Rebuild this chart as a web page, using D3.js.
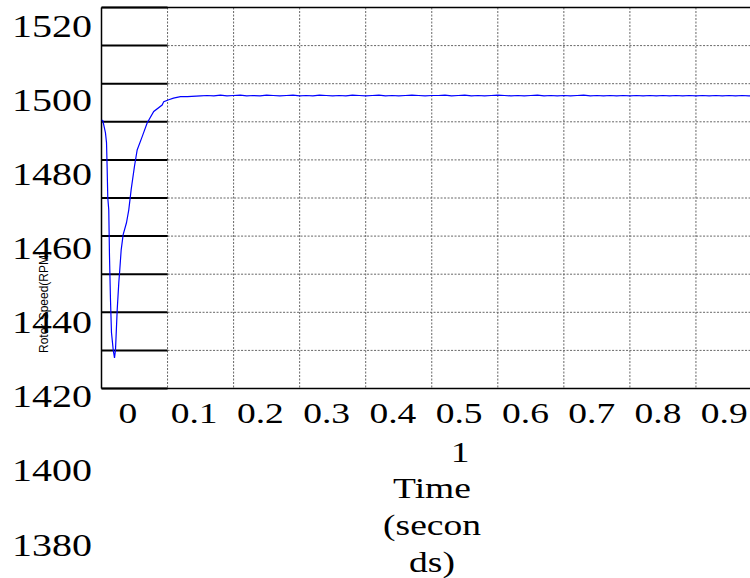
<!DOCTYPE html>
<html>
<head>
<meta charset="utf-8">
<script src="https://cdn.jsdelivr.net/npm/d3@7/dist/d3.min.js"></script>
<style>
html,body{margin:0;padding:0;background:#fff;}
svg{display:block;}
</style>
</head>
<body>
<svg id="chart" width="750" height="578"></svg>
<script>
// ---- data ----
const transientTime = [0, 0.002, 0.006, 0.0076, 0.0086, 0.0095, 0.011, 0.0121, 0.0136, 0.0151, 0.0177, 0.0197,
  0.0212, 0.0238, 0.0262, 0.0277, 0.0298, 0.0328, 0.0378, 0.0413, 0.0449, 0.0499, 0.054, 0.0616, 0.0691,
  0.0791, 0.0918, 0.0943, 0.1018, 0.109, 0.1195, 0.13, 0.15];
const transientSpeed = [1490.5, 1490.3, 1487.1, 1484.5, 1477.4, 1470.1, 1466.9, 1454.7, 1443.3, 1434.7, 1430.2, 1428.0,
  1430.2, 1440.7, 1447.8, 1451.2, 1456.4, 1460.4, 1463.5, 1466.9, 1472.2, 1478.3, 1482.6, 1486.1, 1489.7,
  1492.7, 1494.4, 1495.3, 1495.8, 1496.2, 1496.6, 1496.6, 1496.8];
const steadyTime = [0.16,0.17,0.18,0.19,0.20,0.21,0.22,0.23,0.24,0.25,0.26,0.27,0.28,0.29,0.30,0.31,0.32,0.33,0.34,0.35,
  0.36,0.37,0.38,0.39,0.40,0.41,0.42,0.43,0.44,0.45,0.46,0.47,0.48,0.49,0.50,0.51,0.52,0.53,0.54,0.55,
  0.56,0.57,0.58,0.59,0.60,0.61,0.62,0.63,0.64,0.65,0.66,0.67,0.68,0.69,0.70,0.71,0.72,0.73,0.74,0.75,
  0.76,0.77,0.78,0.79,0.80,0.81,0.82,0.83,0.84,0.85,0.86,0.87,0.88,0.89,0.90,0.91,0.92,0.93,0.94,0.95,
  0.96,0.97,0.98,0.99,1.00];
const steadySpeed = [1496.9,1496.8,1497.0,1496.8,1496.9,1497.0,1496.8,1496.9,1496.8,1497.0,1496.9,1496.8,1496.9,1497.0,1496.8,1496.9,1496.8,1497.0,1496.9,1496.8,
  1496.9,1496.8,1497.0,1496.9,1496.8,1496.9,1497.0,1496.8,1496.9,1496.8,1496.9,1497.0,1496.9,1496.8,1496.9,1496.9,1497.0,1496.8,1496.9,1497.0,
  1496.8,1496.9,1496.8,1496.9,1497.0,1496.9,1496.8,1496.9,1496.8,1496.9,1497.0,1496.8,1496.9,1496.8,1496.9,1496.8,1496.9,1497.0,1496.8,1496.9,
  1496.8,1496.9,1496.8,1496.9,1496.8,1496.9,1496.8,1496.9,1496.8,1496.9,1496.8,1496.9,1496.8,1496.9,1496.8,1496.9,1496.8,1496.9,1496.8,1496.9,
  1496.8,1496.9,1496.8,1496.9,1496.8];
const gridTimes = [0.1,0.2,0.3,0.4,0.5,0.6,0.7,0.8,0.9,1.0];
const gridSpeeds = [1420,1430,1440,1450,1460,1470,1480,1490,1500,1510,1520];
const yTickLabels = [1520,1500,1480,1460,1440,1420,1400,1380];
const xTickLabels = ["0","0.1","0.2","0.3","0.4","0.5","0.6","0.7","0.8","0.9"];
const xWrappedLabel = "1";
const yAxisTitle = "Rotor Speed(RPM)";
const xAxisTitleLines = ["Time","(secon","ds)"];

// ---- scales ----
const svg = d3.select("#chart");
const x = d3.scaleLinear().domain([0,1]).range([101.5,762]);
const y = d3.scaleLinear().domain([1420,1520]).range([388.5,7.5]);
const yLabel = d3.scaleLinear().domain([1520,1380]).range([26,544.7]);
const xLabel = d3.scaleLinear().domain([0,9]).range([127.9,724.2]);
const stretch = 1.25;
const serif = "'Liberation Serif','Times New Roman',Times,serif";

// background
svg.append("rect").attr("width",750).attr("height",578).attr("fill","#fff");

// dashed grid
const grid = svg.append("g");
grid.selectAll("line.v").data(gridTimes.slice(0,-1)).join("line")
  .attr("x1",d=>x(d)).attr("x2",d=>x(d)).attr("y1",y(1520)).attr("y2",y(1420))
  .attr("stroke","#666").attr("stroke-width",1).attr("stroke-dasharray","2,1.5");
grid.selectAll("line.h").data(gridSpeeds.slice(1,-1)).join("line")
  .attr("x1",x(0.1)).attr("x2",x(1)).attr("y1",d=>y(d)).attr("y2",d=>y(d))
  .attr("stroke","#666").attr("stroke-width",1).attr("stroke-dasharray","2,1.5");

// solid black strip lines
svg.append("g").selectAll("line").data(gridSpeeds).join("line")
  .attr("x1",x(0)).attr("x2",x(0.1)).attr("y1",d=>y(d)).attr("y2",d=>y(d))
  .attr("stroke","#000").attr("stroke-width",2);

// frame
svg.append("line").attr("x1",x(0)).attr("x2",x(1)).attr("y1",y(1520)).attr("y2",y(1520)).attr("stroke","#000").attr("stroke-width",1.5);
svg.append("line").attr("x1",x(0)).attr("x2",x(1)).attr("y1",y(1420)).attr("y2",y(1420)).attr("stroke","#000").attr("stroke-width",1.5);
svg.append("line").attr("x1",x(0)).attr("x2",x(0)).attr("y1",y(1520)).attr("y2",y(1420)).attr("stroke","#000").attr("stroke-width",1.5);

// data line
const pts = transientTime.map((t,i)=>[t,transientSpeed[i]]).concat(steadyTime.map((t,i)=>[t,steadySpeed[i]]));
svg.append("clipPath").attr("id","clip").append("rect")
  .attr("x",x(0)).attr("y",y(1520)).attr("width",x(1)-x(0)).attr("height",y(1420)-y(1520));
svg.append("path").datum(pts).attr("clip-path","url(#clip)")
  .attr("fill","none").attr("stroke","#0000ff").attr("stroke-width",1.2)
  .attr("d",d3.line().x(d=>x(d[0])).y(d=>y(d[1])));

// y tick labels
svg.append("g").selectAll("g").data(yTickLabels).join("g")
  .attr("transform",d=>`translate(12,${yLabel(d)+10.8}) scale(${stretch},1)`)
  .append("text").attr("font-family",serif).attr("font-size",32).attr("fill","#000").text(d=>d);

// x tick labels
svg.append("g").selectAll("g").data(xTickLabels).join("g")
  .attr("transform",(d,i)=>`translate(${xLabel(i)},423) scale(${stretch},1)`)
  .append("text").attr("font-family",serif).attr("font-size",30).attr("text-anchor","middle").attr("fill","#000").text(d=>d);
svg.append("g").attr("transform",`translate(460,462) scale(${stretch},1)`)
  .append("text").attr("font-family",serif).attr("font-size",30).attr("text-anchor","middle").text(xWrappedLabel);

// x axis title
svg.append("g").selectAll("g").data(xAxisTitleLines).join("g")
  .attr("transform",(d,i)=>`translate(432,${498+i*37}) scale(${stretch},1)`)
  .append("text").attr("font-family",serif).attr("font-size",30).attr("text-anchor","middle").text(d=>d);

// y axis title
svg.append("text").attr("transform","translate(48,302) rotate(-90)")
  .attr("font-family","'Liberation Sans',Arial,sans-serif").attr("font-size",12)
  .attr("text-anchor","middle").text(yAxisTitle);
</script>
</body>
</html>
